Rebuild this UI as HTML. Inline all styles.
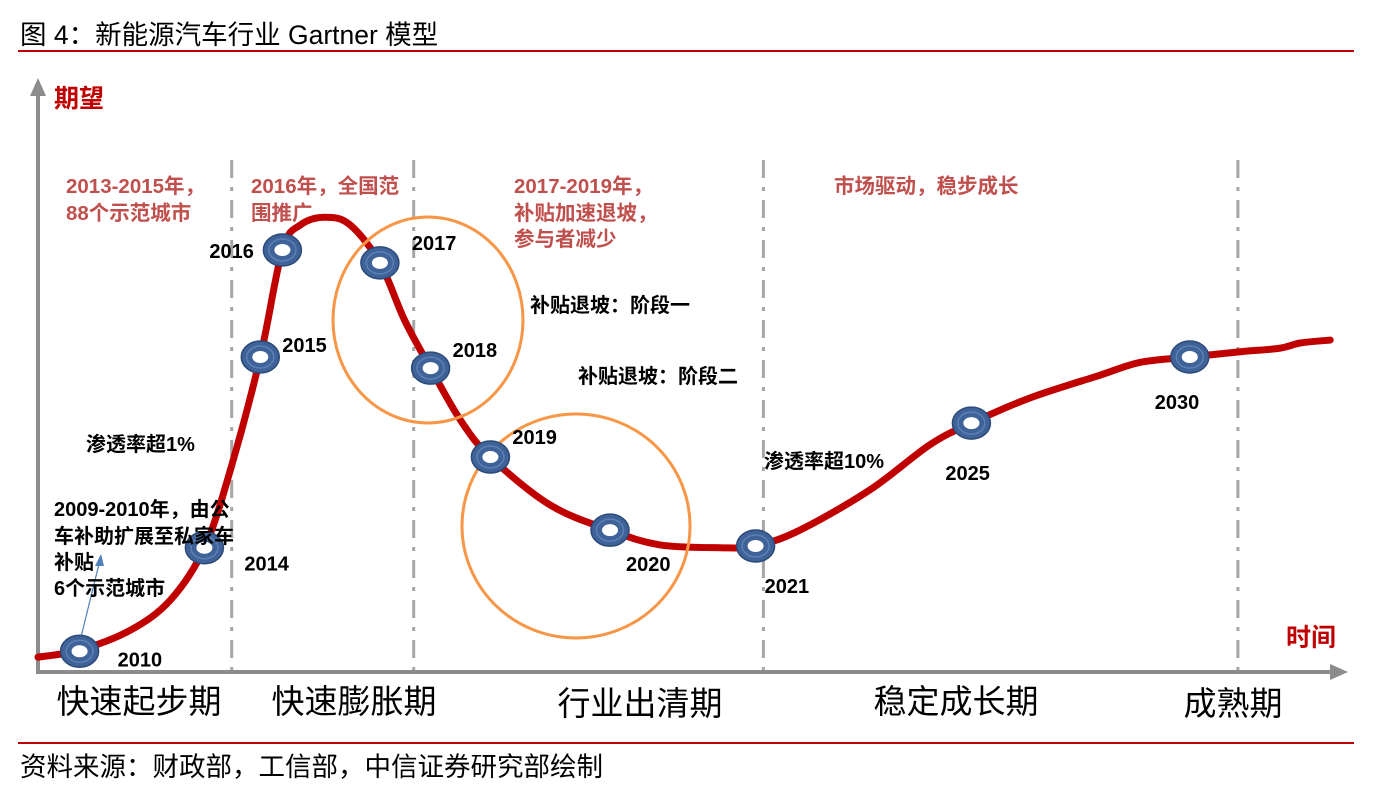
<!DOCTYPE html>
<html><head><meta charset="utf-8"><style>
body{margin:0;background:#fff;}
svg{display:block;font-family:"Liberation Sans","Noto Sans CJK SC",sans-serif;}
.b{font-weight:bold;font-size:20px;fill:#000;}
.r{font-weight:bold;font-size:20.5px;fill:#c0504d;}
.ph{font-size:33px;fill:#000;}
</style></head><body>
<svg id="c" width="1392" height="806" viewBox="0 0 1392 806">
<text x="20" y="44" font-size="26.5" fill="#000">图 4：新能源汽车行业 Gartner 模型</text>
<line x1="18" y1="51" x2="1354" y2="51" stroke="#c00000" stroke-width="2"/>
<line x1="18" y1="743" x2="1354" y2="743" stroke="#c00000" stroke-width="2"/>
<text x="20" y="776" font-size="26.5" fill="#000">资料来源：财政部，工信部，中信证券研究部绘制</text>
<g id="dividers"></g>
<line x1="38" y1="672" x2="38" y2="92" stroke="#8c8c8c" stroke-width="4"/>
<polygon points="38,78 30,96 46,96" fill="#8c8c8c"/>
<line x1="36" y1="672" x2="1332" y2="672" stroke="#8c8c8c" stroke-width="4"/>
<polygon points="1348,672 1330,664 1330,680" fill="#8c8c8c"/>
<text x="54" y="107" font-size="25" font-weight="bold" fill="#c00000">期望</text>
<text x="1286" y="646" font-size="25" font-weight="bold" fill="#c00000">时间</text>
<g id="curve"></g>
<ellipse cx="428" cy="320" rx="95" ry="103" fill="none" stroke="#f79646" stroke-width="3"/>
<ellipse cx="576" cy="526" rx="114" ry="112" fill="none" stroke="#f79646" stroke-width="3"/>
<line x1="80" y1="641" x2="100" y2="560" stroke="#4f81bd" stroke-width="1.2"/>
<polygon points="101,554 95,566 104,566" fill="#4f81bd"/>
<g id="markers"></g>
<g>
<text class="r" x="66" y="193">2013-2015年，</text><text class="r" x="66" y="220">88个示范城市</text>
<text class="r" x="251" y="193">2016年，全国范</text><text class="r" x="251" y="220">围推广</text>
<text class="r" x="514" y="193">2017-2019年，</text><text class="r" x="514" y="220">补贴加速退坡，</text><text class="r" x="514" y="246">参与者减少</text>
<text class="r" x="834" y="193">市场驱动，稳步成长</text>
<text class="b" x="530" y="312">补贴退坡：阶段一</text>
<text class="b" x="578" y="383">补贴退坡：阶段二</text>
<text class="b" x="86" y="451">渗透率超1%</text>
<text class="b" x="764" y="468">渗透率超10%</text>
<text class="b" x="54" y="516">2009-2010年，由公</text>
<text class="b" x="54" y="543">车补助扩展至私家车</text>
<text class="b" x="54" y="569">补贴</text>
<text class="b" x="54" y="595">6个示范城市</text>
</g>
<g>
<text class="ph" x="139" y="713" text-anchor="middle">快速起步期</text>
<text class="ph" x="354" y="713" text-anchor="middle">快速膨胀期</text>
<text class="ph" x="640" y="715" text-anchor="middle">行业出清期</text>
<text class="ph" x="956" y="713" text-anchor="middle">稳定成长期</text>
<text class="ph" x="1233" y="715" text-anchor="middle">成熟期</text>
</g>
</svg>
<script>
const curveT=[0,3.2,7.1,10.2,12.8,14.8,17.1,18.8,20.2,22.1,24,26.3,28.2,30.2,32.5,34.8,39.4,44,47.8,52.5,55.2,58.6,64,68.6,71.8,76.3,81.7,84.8,88.6,92.5,95.5,97.1,99.4];
const curveV=[2.2,3.4,6.8,12,20.9,34.2,53.5,71.8,76.1,77.4,76.1,69.6,59.8,51.6,42.7,36.4,28.2,23.9,21.4,20.9,21.2,23.9,30.8,38.5,42.2,46.5,50.4,52.6,53.5,54.4,55,55.9,56.4];
const years=["2010","2014","2015","2016","2017","2018","2019","2020","2021","2025","2030"];
const yearT=[3.2,12.8,17.1,18.8,26.3,30.2,34.8,44,55.2,71.8,88.6];
const yearV=[3.2,20.9,53.5,71.8,69.6,51.6,36.4,23.9,21.2,42.2,53.5];
const labelDx=[38,40,22,-73,32,22,22,16,9,-26,-35];
const labelDy=[15,23,-5,8,-13,-11,-13,41,47,57,52];
const dividerT=[14.9,28.9,55.8,92.3];
const sx=t=>38+t*13, sy=v=>670-v*5.85;
const NS="http://www.w3.org/2000/svg";
function mk(tag,attrs,parent){const e=document.createElementNS(NS,tag);for(const k in attrs)e.setAttribute(k,attrs[k]);parent.appendChild(e);return e;}
const dv=document.getElementById('dividers');
dividerT.forEach(t=>{const l=mk('line',{x1:sx(t),x2:sx(t),y1:160,y2:672,stroke:'#a6a6a6','stroke-width':3,'stroke-dasharray':'18 9 4 9'},dv);

});
const P=curveT.map((t,i)=>[sx(t),sy(curveV[i])]);
let d=`M${P[0][0]},${P[0][1]}`;
for(let i=0;i<P.length-1;i++){const p0=P[i-1]||P[i],p1=P[i],p2=P[i+1],p3=P[i+2]||P[i+1];
d+=` C${p1[0]+(p2[0]-p0[0])/6},${p1[1]+(p2[1]-p0[1])/6} ${p2[0]-(p3[0]-p1[0])/6},${p2[1]-(p3[1]-p1[1])/6} ${p2[0]},${p2[1]}`;}
const path=mk('path',{d:d,fill:'none',stroke:'#c00000','stroke-width':7,'stroke-linecap':'round'},document.getElementById('curve'));


const mg=document.getElementById('markers');
years.forEach((y,i)=>{const x=sx(yearT[i]),yy=sy(yearV[i]);
const g=mk('g',{},mg);


mk('ellipse',{cx:x,cy:yy,rx:19,ry:16,fill:'#3f6398',stroke:'#2c4a78','stroke-width':1.5},g);
mk('ellipse',{cx:x,cy:yy,rx:13.5,ry:11,fill:'none',stroke:'#5b80b5','stroke-width':1.5},g);
mk('ellipse',{cx:x,cy:yy,rx:8,ry:6,fill:'#fff'},g);
const tx=mk('text',{x:x+labelDx[i],y:yy+labelDy[i],class:'b'},mg);
tx.textContent=y;

});
</script>
</body></html>
